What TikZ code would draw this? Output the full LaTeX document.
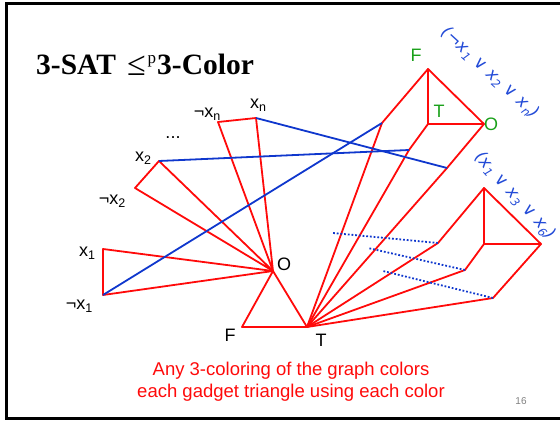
\documentclass[tikz,border=0pt]{standalone}
\usepackage{fontspec}
\setmainfont{Liberation Serif}
\newfontfamily\arialf{Liberation Sans}
\newfontfamily\handf{DejaVu Sans}
\definecolor{gred}{RGB}{255,10,10}
\definecolor{lblue}{RGB}{15,55,205}
\definecolor{lgreen}{RGB}{25,160,25}
\definecolor{hblue}{RGB}{35,75,215}
\newcommand\sbs[1]{\raisebox{-0.35ex}{\fontsize{12.5}{12.5}\selectfont #1}}
\newcommand\hsb[1]{\raisebox{-0.4ex}{\fontsize{11.5}{11.5}\selectfont #1}}
\begin{document}
\begin{tikzpicture}[x=1pt,y=-1pt,
  edge/.style={gred,line width=1.8pt,line join=round,line cap=round},
  lit/.style={lblue,line width=1.8pt},
  dotlink/.style={lblue,line width=1.8pt,dash pattern=on 1.8pt off 1.9pt},
  lab/.style={font=\arialf\fontsize{18}{18}\selectfont,inner sep=0pt},
  glab/.style={lab,text=lgreen},
  ttl/.style={font=\fontsize{29.5}{29.5}\selectfont\bfseries,inner sep=0pt,anchor=base west},
  capt/.style={font=\arialf\fontsize{18.5}{18.5}\selectfont,text=gred,inner sep=0pt,anchor=base},
  hand/.style={font=\handf\itshape\fontsize{17}{17}\selectfont,text=hblue,inner sep=0pt}]
\useasboundingbox (0,0) rectangle (560,422);
% frame
\draw[line width=3pt] (560,4) -- (6.5,4) -- (6.5,418.5) -- (560,418.5);
% title
\node[ttl] (t1) at (36,75) {3-SAT};
\node[font=\fontsize{34}{34}\selectfont,inner sep=0pt,anchor=base west] (t2) at (127,76) {≤};
\node[font=\fontsize{17}{17}\selectfont,inner sep=0pt,anchor=base west] (t3) at (147.5,64) {p};
\node[ttl] (t4) at (157,75) {3-Color};
% variable vertices
\coordinate (xn) at (256,118);
\coordinate (nxn) at (218,122);
\coordinate (x2) at (159,161);
\coordinate (nx2) at (135,188);
\coordinate (x1) at (103,249);
\coordinate (nx1) at (103,295);
\coordinate (O) at (273,271);
\coordinate (F) at (242,327);
\coordinate (T) at (307,327);
% clause 1
\coordinate (F1) at (428,69);
\coordinate (T1) at (428,124);
\coordinate (O1) at (484,124);
\coordinate (a1) at (382,123);
\coordinate (b1) at (409,150);
\coordinate (c1) at (447,168);
% clause 2
\coordinate (F2) at (484,188);
\coordinate (T2) at (484,244);
\coordinate (O2) at (541,244);
\coordinate (a2) at (438,243);
\coordinate (b2) at (465,270);
\coordinate (c2) at (493,298);
\coordinate (d1) at (333,233);
\coordinate (d2) at (368,248);
\coordinate (d3) at (383,271);
% red edges
\draw[edge] (xn) -- (nxn) -- (O) -- cycle;
\draw[edge] (x2) -- (nx2) -- (O) -- cycle;
\draw[edge] (x1) -- (nx1) -- (O) -- cycle;
\draw[edge] (O) -- (F) -- (T) -- cycle;
\draw[edge] (F1) -- (T1) -- (O1) -- cycle;
\draw[edge] (F1) -- (a1) -- (T);
\draw[edge] (T1) -- (b1) -- (T);
\draw[edge] (O1) -- (c1) -- (T);
\draw[edge] (F2) -- (T2) -- (O2) -- cycle;
\draw[edge] (F2) -- (a2) -- (T);
\draw[edge] (T2) -- (b2) -- (T);
\draw[edge] (O2) -- (c2) -- (T);
% blue literal links
\draw[lit] (xn) -- (c1);
\draw[lit] (x2) -- (b1);
\draw[lit] (nx1) -- (a1);
\draw[dotlink] (a2) -- (d1);
\draw[dotlink] (b2) -- (d2);
\draw[dotlink] (c2) -- (d3);
% labels
\node[lab] (Lxn) at (258,105) {x\sbs{n}};
\node[lab] (Lnxn) at (207,114) {¬x\sbs{n}};
\node[lab] (Ldots) at (173,138) {...};
\node[lab] (Lx2) at (143,158) {x\sbs{2}};
\node[lab] (Lnx2) at (112,201) {¬x\sbs{2}};
\node[lab] (Lx1) at (87,253) {x\sbs{1}};
\node[lab] (Lnx1) at (79,306) {¬x\sbs{1}};
\node[lab] (LO) at (284,264) {O};
\node[lab] (LF) at (230,335) {F};
\node[lab] (LT) at (321,340) {T};
\node[glab] (GF) at (416,55) {F};
\node[glab] (GT) at (439,111) {T};
\node[glab] (GO) at (491,124) {O};
% handwritten clauses
\node[hand,rotate=-42.5] (cl1) at (490,73) {(¬x\hsb{1} ∨ x\hsb{2} ∨ x\hsb{n})};
\node[hand,rotate=-48] (cl2) at (515,196) {(x\hsb{1} ∨ x\hsb{3} ∨ x\hsb{6})};
% caption
\node[capt] (cap1) at (291,375) {Any 3-coloring of the graph colors};
\node[capt] (cap2) at (291,397.5) {each gadget triangle using each color};
\node[font=\arialf\fontsize{10}{10}\selectfont,text=gray,inner sep=0pt] (pg) at (521,401) {16};
\end{tikzpicture}
\end{document}
